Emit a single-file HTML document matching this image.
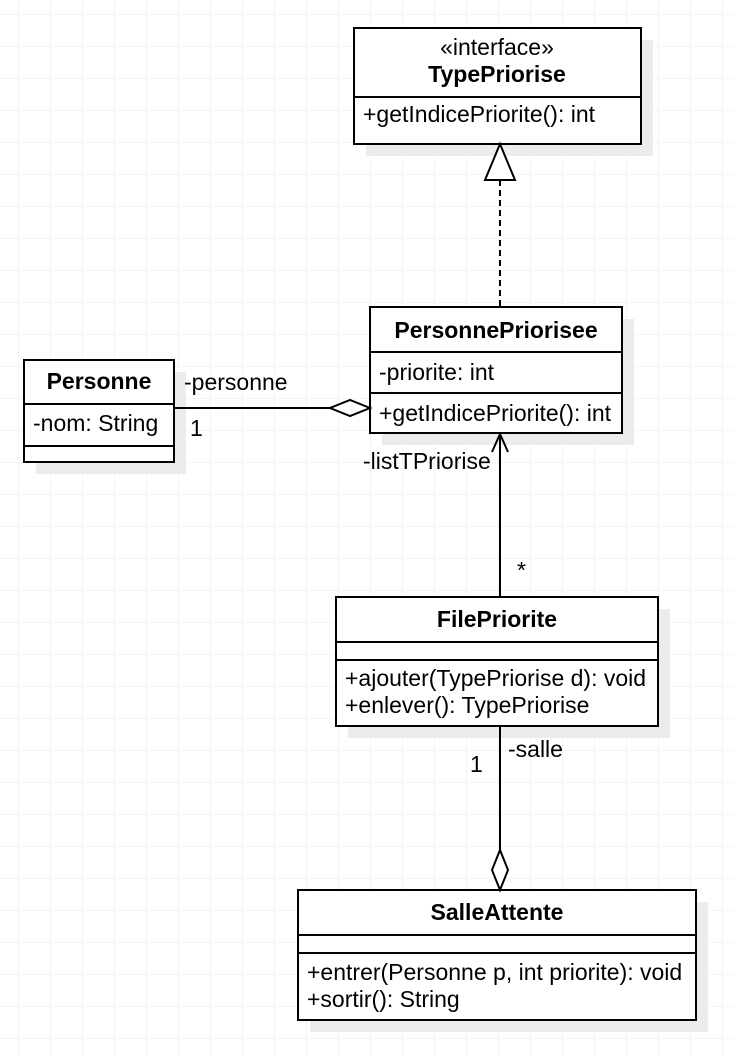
<!DOCTYPE html>
<html><head><style>
html,body{margin:0;padding:0;background:#fff}
svg{display:block}
text{font-family:"Liberation Sans",Arial,sans-serif;font-size:23px;fill:#000}
.b{font-weight:bold}
</style></head><body>
<svg width="734" height="1056" viewBox="0 0 734 1056" xmlns="http://www.w3.org/2000/svg">
<defs>
<pattern id="g" width="32" height="32" patternUnits="userSpaceOnUse" x="18" y="14">
<path d="M0 0H32M0 0V32" stroke="#ebebeb" stroke-width="1" fill="none"/>
</pattern>
</defs>
<rect width="734" height="1056" fill="url(#g)"/>
<g fill="#ececec">
<rect x="366" y="40" width="287" height="116"/>
<rect x="382" y="319" width="252" height="126"/>
<rect x="36" y="372" width="150" height="102"/>
<rect x="348" y="609" width="322" height="129"/>
<rect x="310" y="902" width="398" height="130"/>
</g>
<g fill="#fff" stroke="#000" stroke-width="2">
<rect x="354" y="28" width="287" height="116"/>
<line x1="354" y1="97" x2="641" y2="97"/>
<rect x="370" y="307" width="252" height="126"/>
<line x1="370" y1="352" x2="622" y2="352"/>
<line x1="370" y1="393" x2="622" y2="393"/>
<rect x="24" y="360" width="150" height="102"/>
<line x1="24" y1="404" x2="174" y2="404"/>
<line x1="24" y1="446" x2="174" y2="446"/>
<rect x="336" y="597" width="322" height="129"/>
<line x1="336" y1="642" x2="658" y2="642"/>
<line x1="336" y1="660" x2="658" y2="660"/>
<rect x="298" y="890" width="398" height="130"/>
<line x1="298" y1="935" x2="696" y2="935"/>
<line x1="298" y1="953" x2="696" y2="953"/>
</g>
<g stroke="#000" stroke-width="2" fill="none">
<line x1="500" y1="180" x2="500" y2="307" stroke-dasharray="6,4"/>
<polygon points="500,144 485,180 515,180" fill="#fff"/>
<line x1="174" y1="408" x2="330" y2="408"/>
<polygon points="370,408 350,400 330,408 350,416" fill="#fff"/>
<line x1="500" y1="435" x2="500" y2="597"/>
<polyline points="492,452 500,434 508,452"/>
<line x1="500" y1="726" x2="500" y2="850"/>
<polygon points="500,850 492,870 500,890 508,870" fill="#fff"/>
</g>
<text x="497" y="55" text-anchor="middle">«interface»</text>
<text x="497" y="82" text-anchor="middle" class="b">TypePriorise</text>
<text x="363" y="122">+getIndicePriorite(): int</text>
<text x="496" y="338" text-anchor="middle" class="b">PersonnePriorisee</text>
<text x="379" y="380">-priorite: int</text>
<text x="379" y="421">+getIndicePriorite(): int</text>
<text x="99" y="389" text-anchor="middle" class="b">Personne</text>
<text x="33" y="431">-nom: String</text>
<text x="497" y="627" text-anchor="middle" class="b">FilePriorite</text>
<text x="345" y="686">+ajouter(TypePriorise d): void</text>
<text x="345" y="713">+enlever(): TypePriorise</text>
<text x="497" y="920" text-anchor="middle" class="b">SalleAttente</text>
<text x="307" y="980">+entrer(Personne p, int priorite): void</text>
<text x="307" y="1007">+sortir(): String</text>
<text x="184" y="390">-personne</text>
<text x="190" y="436">1</text>
<text x="363" y="469">-listTPriorise</text>
<text x="517" y="578">*</text>
<text x="508" y="757">-salle</text>
<text x="470" y="772">1</text>
</svg>
</body></html>
